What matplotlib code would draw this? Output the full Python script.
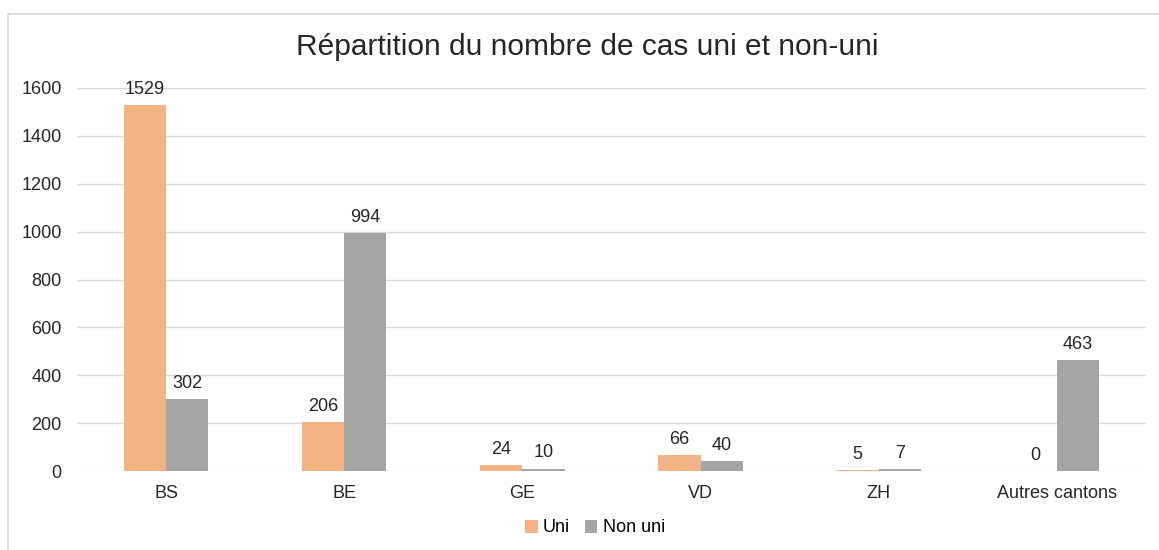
import numpy as np
from matplotlib import pyplot as plt
from matplotlib.patches import Rectangle

plt.rcParams['font.family'] = ['Liberation Sans', 'DejaVu Sans']

cantons = ['BS', 'BE', 'GE', 'VD', 'ZH', 'Autres cantons']
uni = [1529, 206, 24, 66, 5, 0]
non_uni = [302, 994, 10, 40, 7, 463]

c_uni = '#F4B183'
c_non = '#A5A5A5'

fig = plt.figure(figsize=(11.59, 5.5), dpi=100)
# cadre du graphique
fig.patches.append(Rectangle((8/1159, -0.01), 1.2, 1 - 14/550 + 0.01, transform=fig.transFigure,
                             fill=False, edgecolor='#D9D9D9', linewidth=1.2))
ax = fig.add_axes([77/1159, 1 - 471/550, (1146 - 77)/1159, (471 - 88)/550])

x = np.arange(len(cantons))
w = 0.237
b1 = ax.bar(x - w/2, uni, w, color=c_uni, label='Uni', zorder=3)
b2 = ax.bar(x + w/2, non_uni, w, color=c_non, label='Non uni', zorder=3)
for bars, vals in ((b1, uni), (b2, non_uni)):
    for r, v in zip(bars, vals):
        ax.text(r.get_x() + r.get_width()/2, v + 30, str(v), ha='center', va='bottom',
                fontsize=13, color='#262626')

ax.set_xlim(-0.5, len(cantons) - 0.5)
ax.set_ylim(0, 1600)
ax.set_yticks(range(0, 1601, 200))
ax.set_xticks(x)
ax.set_xticklabels(cantons)
ax.tick_params(axis='both', length=0, labelsize=13, colors='#262626')
ax.tick_params(axis='y', pad=11)
ax.tick_params(axis='x', pad=10)
ax.grid(axis='y', color='#D9D9D9', linewidth=1, zorder=0)
for s in ax.spines.values():
    s.set_visible(False)

fig.text(587/1159, 1 - 47/550, 'Répartition du nombre de cas uni et non-uni', ha='center', va='center',
         fontsize=21.5, color='#262626')
fig.legend(loc='center', bbox_to_anchor=(595/1159, 1 - 528/550), ncol=2, frameon=False, fontsize=13,
           handlelength=0.7, handleheight=0.7, handletextpad=0.3, columnspacing=0.8)

fig.savefig('out.png', dpi=100)
